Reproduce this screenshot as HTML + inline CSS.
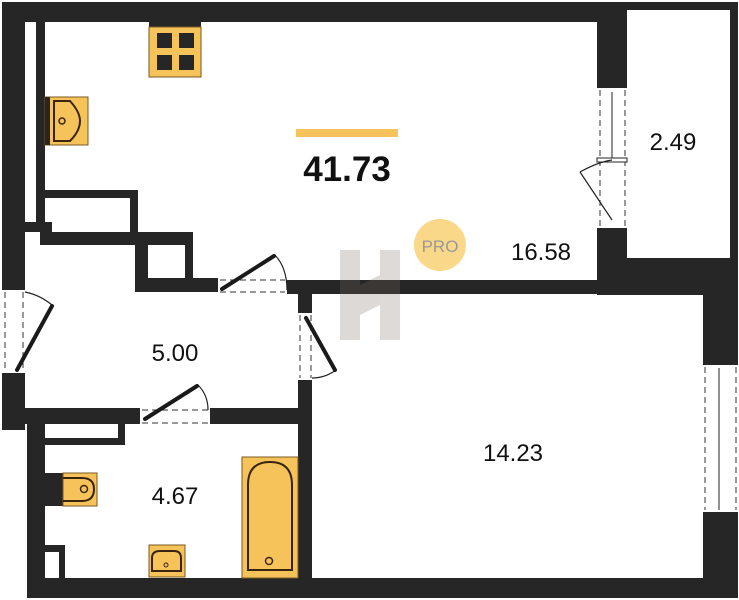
<!DOCTYPE html>
<html><head><style>body{margin:0;background:#fff}svg{display:block}</style></head>
<body>
<svg width="739" height="600" viewBox="0 0 739 600" xmlns="http://www.w3.org/2000/svg" font-family="Liberation Sans, sans-serif">
<rect width="739" height="600" fill="#fff"/>
<g fill="#262626">
<rect x="2" y="2" width="597" height="20"/>
<rect x="597" y="2" width="141" height="8"/>
<rect x="730" y="2" width="8" height="258"/>
<rect x="2" y="2" width="23" height="288"/>
<rect x="2" y="373" width="23" height="57"/>
<rect x="36" y="22" width="9" height="200"/>
<rect x="45" y="190" width="93" height="8"/>
<rect x="130" y="190" width="8" height="45"/>
<rect x="25" y="222" width="27" height="10"/>
<rect x="40" y="232" width="152" height="13"/>
<rect x="135" y="232" width="13" height="60"/>
<rect x="185" y="232" width="8" height="50"/>
<rect x="135" y="278" width="83" height="14"/>
<rect x="287" y="280" width="316" height="14"/>
<rect x="597" y="10" width="30" height="78"/>
<rect x="597" y="228" width="30" height="32"/>
<rect x="597" y="258" width="141" height="37"/>
<rect x="703" y="258" width="35" height="107"/>
<rect x="703" y="512" width="35" height="86"/>
<rect x="298" y="280" width="14" height="33"/>
<rect x="298" y="380" width="14" height="200"/>
<rect x="25" y="408" width="115" height="16"/>
<rect x="210" y="408" width="100" height="16"/>
<rect x="27" y="408" width="18" height="190"/>
<rect x="45" y="438" width="80" height="7"/>
<rect x="118" y="424" width="7" height="21"/>
<rect x="45" y="545" width="20" height="7"/>
<rect x="59" y="545" width="6" height="33"/>
<rect x="27" y="578" width="711" height="20"/>
</g>
<g stroke="#333" fill="none" stroke-dasharray="6,4" stroke-width="1">
<line x1="600" y1="90" x2="600" y2="226"/><line x1="625" y1="90" x2="625" y2="226"/>
<line x1="705" y1="367" x2="705" y2="510"/><line x1="736" y1="367" x2="736" y2="510"/>
<line x1="5" y1="292" x2="5" y2="371"/><line x1="23" y1="292" x2="23" y2="371"/>
<line x1="300" y1="315" x2="300" y2="378"/><line x1="311" y1="315" x2="311" y2="378"/>
<line x1="220" y1="280" x2="285" y2="280"/><line x1="220" y1="292" x2="285" y2="292"/>
<line x1="142" y1="410" x2="208" y2="410"/><line x1="142" y1="423" x2="208" y2="423"/>
</g>
<g stroke="#222" stroke-width="1">
<line x1="612" y1="92" x2="612" y2="158"/>
<line x1="719" y1="368" x2="719" y2="510"/>
<rect x="597" y="158" width="30" height="4" fill="#fff"/>
</g>
<g stroke="#222" fill="none" stroke-width="1.2">
<line x1="612" y1="220" x2="580" y2="172"/><path d="M580 172 Q598 162 612 160"/>
<path d="M275 255 Q287 268 287 290"/>
<path d="M52 305 Q40 295 25 292"/>
<path d="M336 370 Q325 378 312 378"/>
<path d="M198 385 Q208 395 208 410"/>
</g>
<g stroke="#1a1a1a" stroke-width="4" stroke-linecap="round">
<line x1="222" y1="289" x2="274" y2="256"/>
<line x1="17" y1="370" x2="52" y2="306"/>
<line x1="306" y1="318" x2="335" y2="370"/>
<line x1="145" y1="419" x2="197" y2="386"/>
</g>
<rect x="149" y="22" width="52" height="5" fill="#262626"/>
<rect x="149" y="27" width="52" height="50" fill="#f6c35b" stroke="#7a5a20"/>
<g fill="#262626"><rect x="157" y="33" width="15" height="15"/><rect x="179" y="33" width="15" height="15"/><rect x="157" y="55" width="15" height="15"/><rect x="179" y="55" width="15" height="15"/></g>
<rect x="45" y="97" width="43" height="48" fill="#f6c35b" stroke="#7a5a20"/>
<rect x="45" y="97" width="5" height="48" fill="#262626"/>
<path d="M54 101 H70 Q80 112 80 121 Q80 131 70 141 H54 Z" fill="none" stroke="#3a2410" stroke-width="2"/>
<circle cx="62" cy="121" r="3" fill="none" stroke="#3a2410" stroke-width="1.5"/>
<rect x="45" y="473" width="18" height="33" fill="#262626"/>
<rect x="63" y="473" width="34" height="33" fill="#f6c35b" stroke="#7a5a20"/>
<path d="M63 478 H82 Q94 478 94 489 Q94 501 82 501 H63" fill="none" stroke="#3a2410" stroke-width="2"/>
<circle cx="84" cy="489" r="3.5" fill="none" stroke="#3a2410" stroke-width="1.5"/>
<rect x="149" y="545" width="36" height="32" fill="#f6c35b" stroke="#7a5a20"/>
<path d="M152 571 V558 Q152 551 160 551 H174 Q181 551 181 558 V571 Z" fill="none" stroke="#3a2410" stroke-width="2"/>
<circle cx="166" cy="565" r="2" fill="none" stroke="#3a2410"/>
<rect x="242" y="457" width="56" height="121" fill="#f6c35b" stroke="#7a5a20"/>
<path d="M248 570 V485 Q248 462 270 462 Q292 462 292 485 V570 Z" fill="none" stroke="#3a2410" stroke-width="2"/>
<circle cx="269" cy="561" r="3.5" fill="none" stroke="#3a2410" stroke-width="1.5"/>
<g opacity="0.25" fill="#7a6a60"><rect x="340" y="250" width="20" height="90"/><rect x="380" y="250" width="20" height="90"/><polygon points="360,285 380,275 380,305 360,315"/></g>
<rect x="296" y="129" width="102" height="8" fill="#f6c35b"/>
<text x="347" y="181" text-anchor="middle" font-size="35" font-weight="bold" fill="#111">41.73</text>
<circle cx="440" cy="245" r="26" fill="#f9d88a"/>
<text x="440" y="252" text-anchor="middle" font-size="17" fill="#999">PRO</text>
<g font-size="24" fill="#111" text-anchor="middle">
<text x="541" y="260">16.58</text>
<text x="673" y="150">2.49</text>
<text x="175" y="361">5.00</text>
<text x="175" y="504">4.67</text>
<text x="513" y="461">14.23</text>
</g>
</svg>
</body></html>
